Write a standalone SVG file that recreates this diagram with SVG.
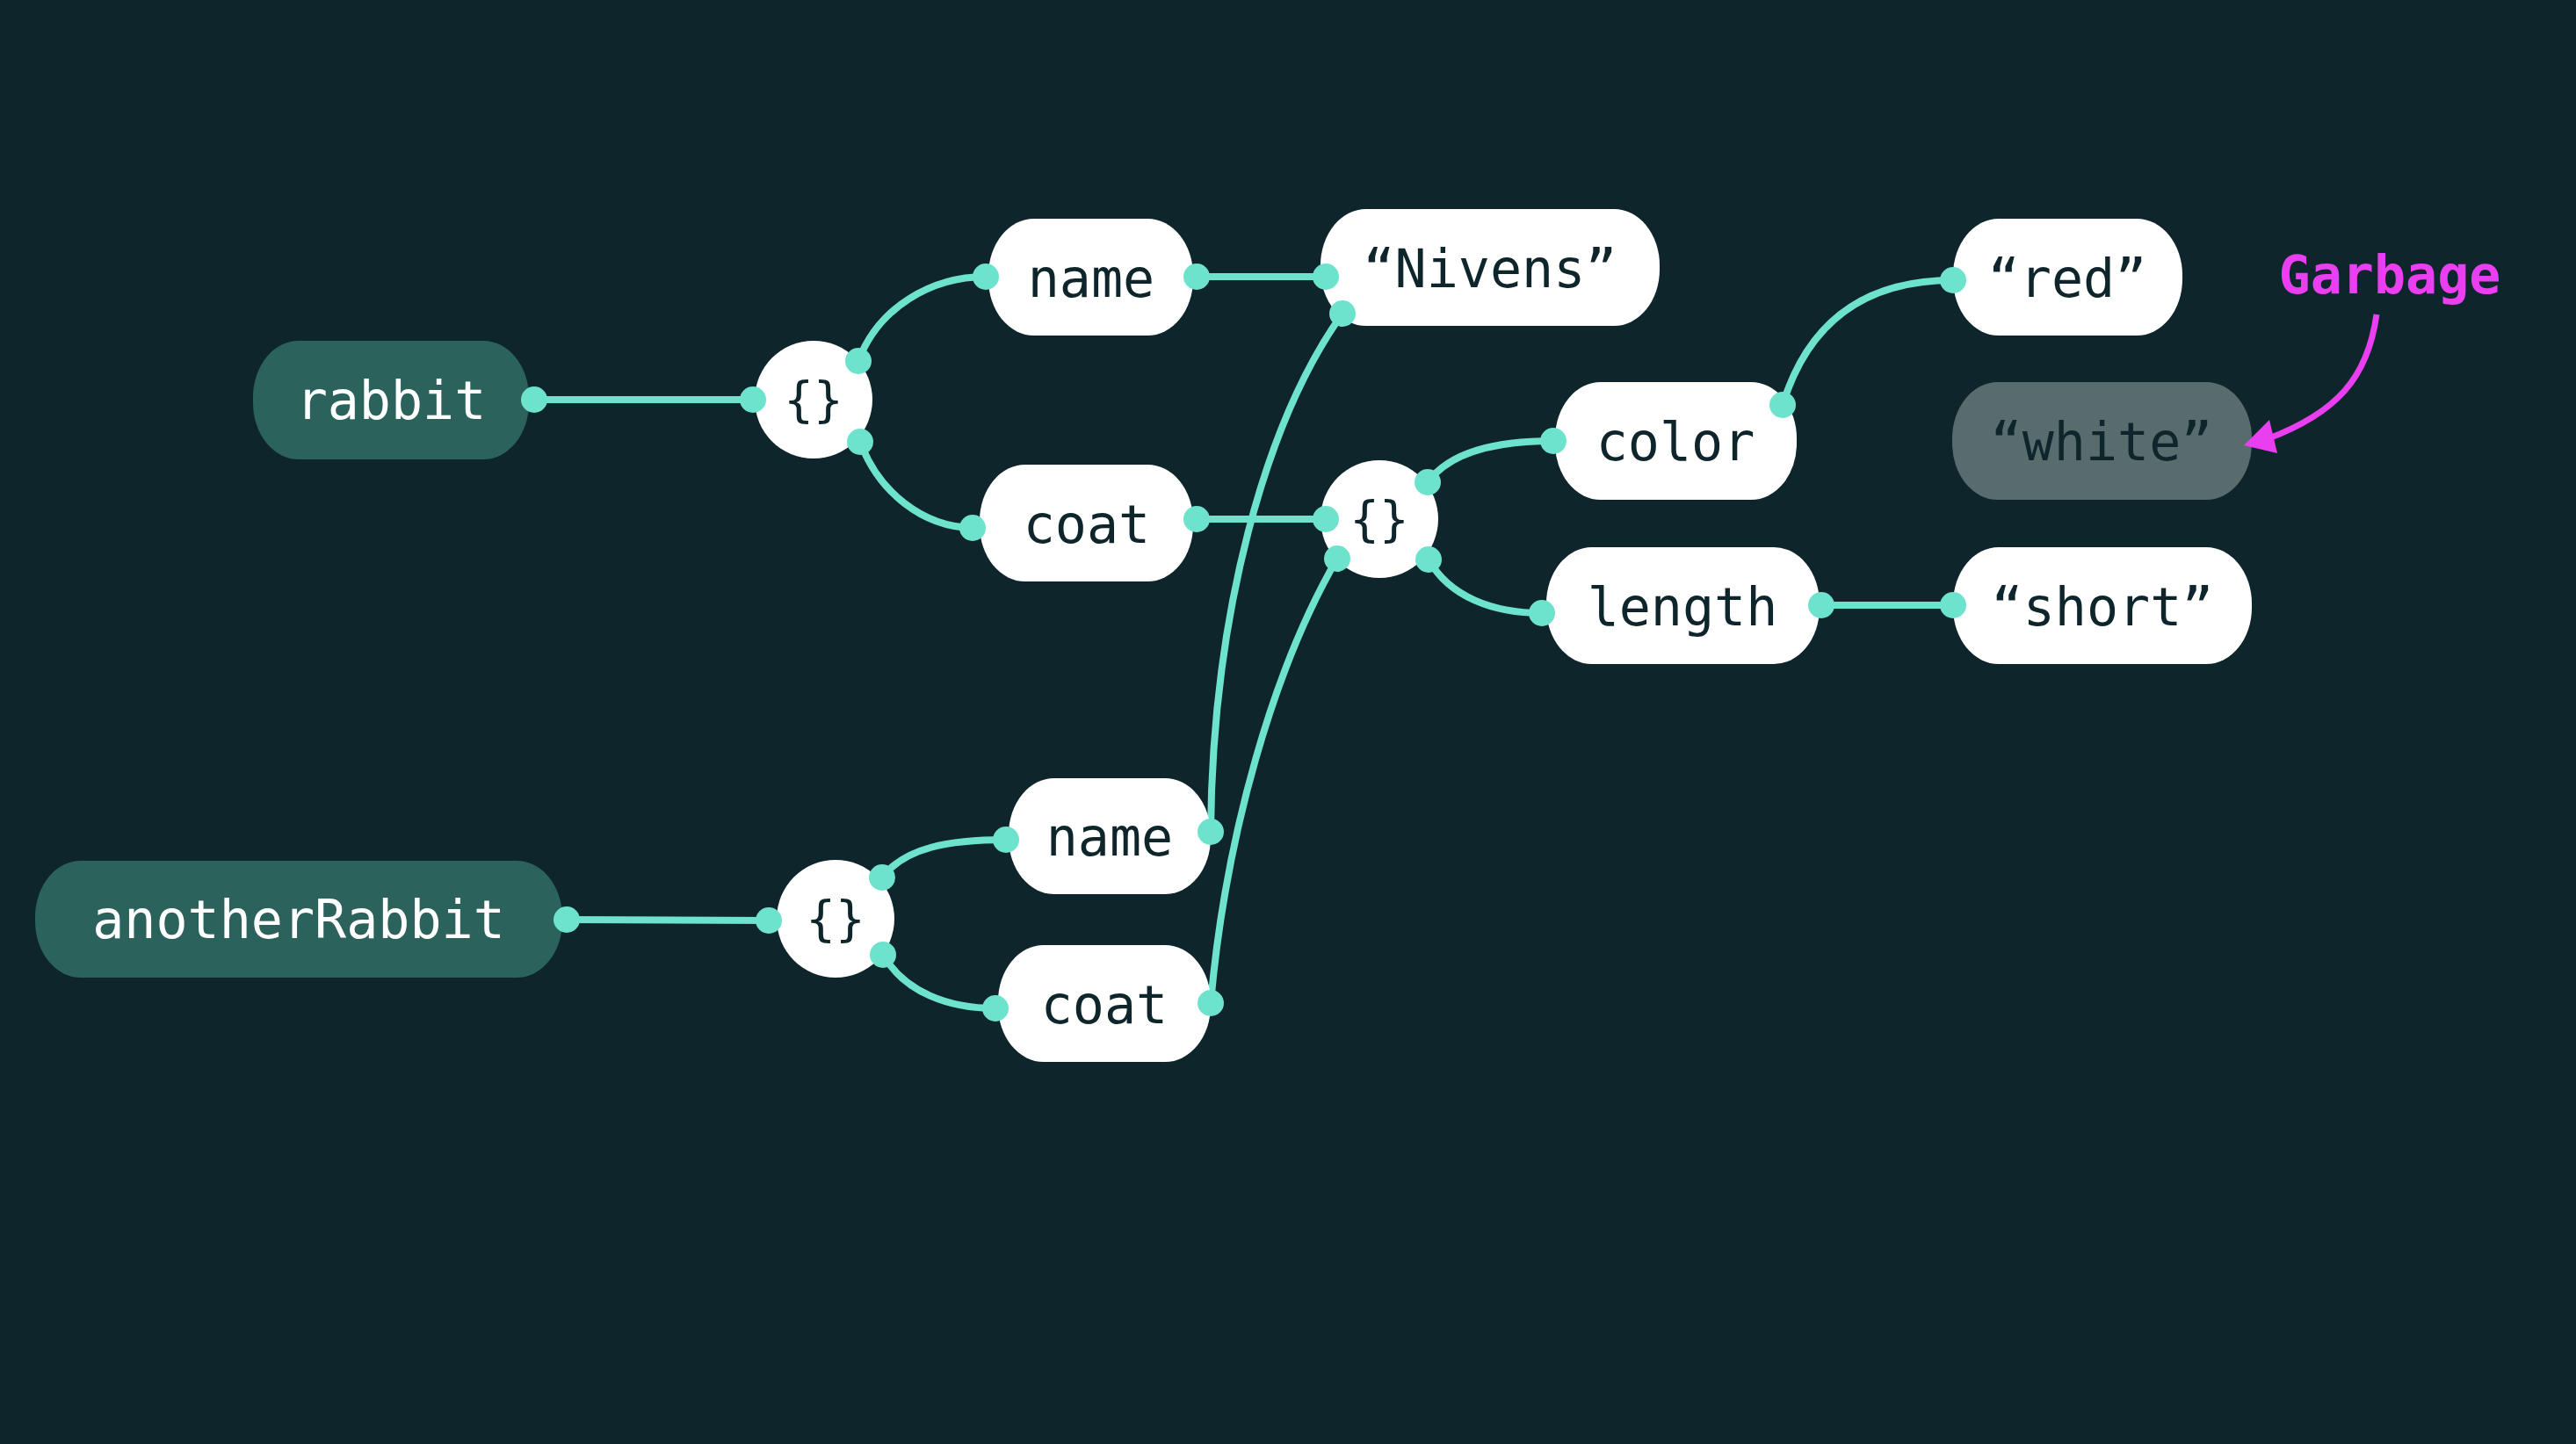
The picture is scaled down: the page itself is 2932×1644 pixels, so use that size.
<svg xmlns="http://www.w3.org/2000/svg" width="2932" height="1644" viewBox="0 0 2932 1644">
<defs>
<style>
.bg{fill:#0e252b}
.pill{fill:#ffffff}
.var{fill:#2b625c}
.gone{fill:#586b6d}
.t{font-family:"DejaVu Sans Mono","Liberation Mono",monospace;font-size:60px;text-anchor:middle;fill:#0e252b}
.tw{fill:#ffffff}
.br{font-size:56px}
.c{fill:none;stroke:#6de3cd;stroke-width:8;stroke-linecap:round}
.d{fill:#6de3cd}
.g{font-family:"DejaVu Sans Mono","Liberation Mono",monospace;font-size:60px;font-weight:bold;fill:#e93ff0;text-anchor:middle}
.ga{fill:none;stroke:#e93ff0;stroke-width:7}
</style>
</defs>
<rect class="bg" x="0" y="0" width="2932" height="1644"/>

<g id="connectors">
<path class="c" d="M608 455 L857 455"/>
<path class="c" d="M977 411 C1000 350 1060 315 1122 315"/>
<path class="c" d="M979 503 C1000 560 1050 600 1107 601"/>
<path class="c" d="M1362 315 L1509 315"/>
<path class="c" d="M1362 591 L1509 591"/>
<path class="c" d="M1625 549 C1650 515 1700 502 1768 502"/>
<path class="c" d="M1626 637 C1650 680 1700 698 1755 698"/>
<path class="c" d="M2029 461 C2060 360 2130 319 2223 319"/>
<path class="c" d="M2073 689 L2223 689"/>
<path class="c" d="M645 1047 L875 1048"/>
<path class="c" d="M1004 999 C1030 965 1080 956 1145 956"/>
<path class="c" d="M1005 1087 C1030 1130 1080 1148 1133 1148"/>
<path class="c" d="M1378 947 C1380 700 1440 480 1528 357"/>
<path class="c" d="M1378 1142 C1395 950 1450 760 1522 636"/>
</g>

<g id="rabbit"><rect class="var" x="288" y="388" width="314" height="135" rx="52" ry="64"/><text class="t tw" x="445" y="477">rabbit</text></g>
<g id="obj1"><circle class="pill" cx="926" cy="455" r="67"/><text class="t br" x="926" y="474">{}</text></g>
<g id="name1"><rect class="pill" x="1125" y="249" width="233" height="133" rx="52" ry="64"/><text class="t" x="1242" y="338">name</text></g>
<g id="coat1"><rect class="pill" x="1115" y="529" width="243" height="133" rx="52" ry="64"/><text class="t" x="1237" y="618">coat</text></g>
<g id="nivens"><rect class="pill" x="1503" y="238" width="386" height="133" rx="52" ry="64"/><text class="t" x="1696" y="327">“Nivens”</text></g>
<g id="obj2"><circle class="pill" cx="1570" cy="591" r="67"/><text class="t br" x="1570" y="610">{}</text></g>
<g id="color"><rect class="pill" x="1770" y="435" width="275" height="134" rx="52" ry="64"/><text class="t" x="1907" y="524">color</text></g>
<g id="length"><rect class="pill" x="1760" y="623" width="311" height="133" rx="52" ry="64"/><text class="t" x="1915" y="712">length</text></g>
<g id="red"><rect class="pill" x="2223" y="249" width="261" height="133" rx="52" ry="64"/><text class="t" x="2353" y="338">“red”</text></g>
<g id="white"><rect class="gone" x="2222" y="435" width="341" height="134" rx="52" ry="64"/><text class="t" x="2392" y="524">“white”</text></g>
<g id="short"><rect class="pill" x="2223" y="623" width="340" height="133" rx="52" ry="64"/><text class="t" x="2393" y="712">“short”</text></g>
<g id="anotherRabbit"><rect class="var" x="40" y="980" width="600" height="133" rx="52" ry="64"/><text class="t tw" x="340" y="1068">anotherRabbit</text></g>
<g id="obj3"><circle class="pill" cx="951" cy="1046" r="67"/><text class="t br" x="951" y="1065">{}</text></g>
<g id="name2"><rect class="pill" x="1148" y="886" width="230" height="132" rx="52" ry="64"/><text class="t" x="1263" y="974">name</text></g>
<g id="coat2"><rect class="pill" x="1136" y="1076" width="242" height="133" rx="52" ry="64"/><text class="t" x="1257" y="1165">coat</text></g>

<g id="dots">
<circle class="d" cx="608" cy="455" r="15"/>
<circle class="d" cx="857" cy="455" r="15"/>
<circle class="d" cx="977" cy="411" r="15"/>
<circle class="d" cx="979" cy="503" r="15"/>
<circle class="d" cx="1122" cy="315" r="15"/>
<circle class="d" cx="1107" cy="601" r="15"/>
<circle class="d" cx="1362" cy="315" r="15"/>
<circle class="d" cx="1362" cy="591" r="15"/>
<circle class="d" cx="1509" cy="315" r="15"/>
<circle class="d" cx="1528" cy="357" r="15"/>
<circle class="d" cx="1509" cy="591" r="15"/>
<circle class="d" cx="1625" cy="549" r="15"/>
<circle class="d" cx="1522" cy="636" r="15"/>
<circle class="d" cx="1626" cy="637" r="15"/>
<circle class="d" cx="1768" cy="502" r="15"/>
<circle class="d" cx="1755" cy="698" r="15"/>
<circle class="d" cx="2029" cy="461" r="15"/>
<circle class="d" cx="2073" cy="689" r="15"/>
<circle class="d" cx="2223" cy="319" r="15"/>
<circle class="d" cx="2223" cy="689" r="15"/>
<circle class="d" cx="645" cy="1047" r="15"/>
<circle class="d" cx="875" cy="1048" r="15"/>
<circle class="d" cx="1004" cy="999" r="15"/>
<circle class="d" cx="1005" cy="1087" r="15"/>
<circle class="d" cx="1145" cy="956" r="15"/>
<circle class="d" cx="1133" cy="1148" r="15"/>
<circle class="d" cx="1378" cy="947" r="15"/>
<circle class="d" cx="1378" cy="1142" r="15"/>
</g>

<g id="garbage">
<text class="g" x="2720" y="334">Garbage</text>
<path class="ga" d="M2705 358 C2695 430 2660 470 2580 500"/>
<polygon fill="#e93ff0" points="2554,507 2583,478 2592,516"/>
</g>
</svg>
